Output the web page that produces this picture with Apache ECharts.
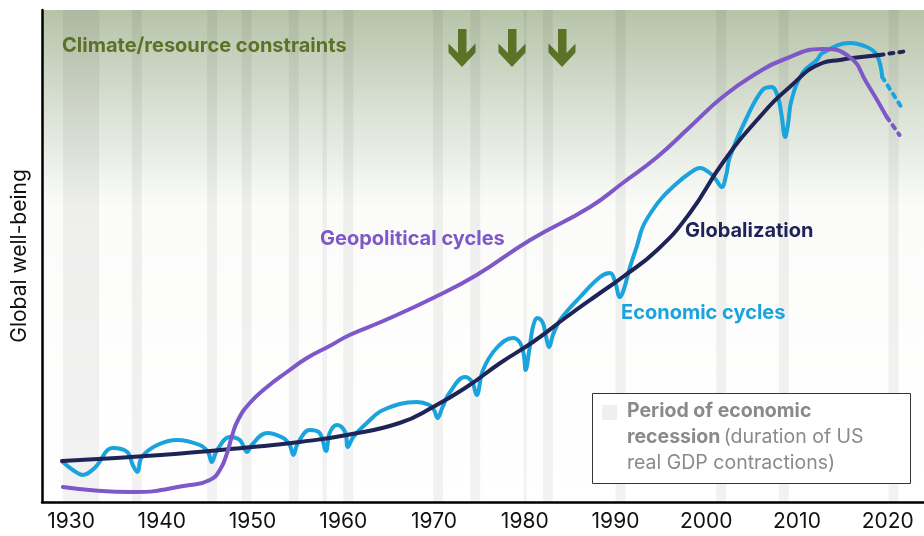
<!DOCTYPE html>
<html>
<head>
<meta charset="utf-8">
<script src="https://cdn.jsdelivr.net/npm/echarts@6/dist/echarts.min.js"></script>
<style>
  html, body { margin: 0; padding: 0; background: #fff; }
  #chart { width: 924px; height: 536px; }
</style>
</head>
<body>
<div id="chart"></div>
<script>
// x = year, y = relative well-being (arbitrary units, 0 at the x axis)
const yearTicks = [1930, 1940, 1950, 1960, 1970, 1980, 1990, 2000, 2010, 2020];

// periods of US real GDP contraction [start, end]
const recessions = [
  [1929.1, 1933.1], [1936.7, 1937.8], [1945.0, 1946.1], [1948.8, 1949.9],
  [1954.0, 1955.1], [1957.7, 1958.2], [1960.0, 1961.1], [1969.9, 1971.0],
  [1974.0, 1975.1], [1979.9, 1980.2], [1982.0, 1983.1], [1990.0, 1991.1],
  [2001.1, 2002.2], [2008.0, 2009.1], [2020.1, 2021.2]
];

const economicCycles = [
  [1929.1, 40], [1930.2, 32], [1931.3, 27], [1932.6, 34], [1934.6, 54], [1936.2, 50],
  [1936.8, 37], [1937.3, 30], [1937.8, 45], [1939.5, 57], [1941.7, 62], [1944.2, 57],
  [1945.1, 50], [1945.5, 40], [1946.1, 52], [1947.5, 65], [1948.6, 62], [1949.4, 50],
  [1949.9, 57], [1951.6, 69], [1953.4, 64], [1954.1, 57], [1954.5, 47], [1955.0, 59],
  [1956.3, 72], [1957.4, 69], [1958.1, 51], [1958.5, 69], [1959.3, 77], [1960.2, 70],
  [1960.5, 55], [1961.1, 65], [1962.6, 79], [1964.4, 92], [1968.1, 100], [1969.5, 97],
  [1970.0, 92], [1970.4, 84], [1970.9, 94], [1971.7, 109], [1973.4, 125], [1974.2, 120],
  [1974.7, 107], [1975.4, 132], [1976.9, 154], [1978.7, 164], [1979.5, 159], [1979.9, 147],
  [1980.1, 132], [1980.5, 152], [1980.9, 175], [1981.4, 184], [1982.0, 179], [1982.3, 167],
  [1982.7, 155], [1983.1, 167], [1983.9, 182], [1986.1, 205], [1988.3, 225], [1989.4, 229],
  [1989.9, 222], [1990.5, 205], [1990.9, 212], [1991.6, 235], [1992.4, 257], [1993.0, 275],
  [1994.1, 292], [1995.2, 305], [1996.8, 319], [1998.2, 329], [1999.3, 334], [2000.4, 329],
  [2001.1, 322], [2001.7, 315], [2002.2, 327], [2002.6, 345], [2004.5, 385], [2006.2, 412],
  [2007.2, 415], [2007.9, 405], [2008.3, 387], [2008.7, 365], [2009.0, 377], [2009.4, 402],
  [2010.6, 429], [2012.2, 442], [2012.8, 449], [2015.8, 459], [2017.7, 455], [2018.8, 447],
  [2019.4, 425]
];
const economicProjection = [[2019.4, 425], [2021.5, 395]];

const globalization = [
  [1929.0, 41], [1939.9, 47], [1950.0, 55], [1955.2, 60], [1960.4, 67], [1966.2, 79],
  [1969.9, 95], [1973.6, 115], [1977.3, 139], [1980.9, 160], [1984.6, 185], [1988.3, 209],
  [1990.8, 225], [1994.6, 252], [1998.2, 289], [2001.8, 339], [2005.6, 382], [2009.2, 415],
  [2012.8, 439], [2014.7, 442], [2016.1, 444], [2019.1, 447]
];
const globalizationProjection = [[2019.1, 447], [2022.2, 451]];

const geopolitical = [
  [1929.1, 15], [1936.8, 10], [1943.1, 17], [1945.3, 22], [1946.4, 32], [1947.2, 49],
  [1947.7, 65], [1948.4, 82], [1949.7, 99], [1951.6, 115], [1953.8, 130], [1956.0, 144],
  [1958.5, 156], [1960.7, 167], [1964.4, 181], [1969.9, 204], [1974.7, 227], [1980.6, 262],
  [1987.2, 295], [1990.8, 319], [1994.6, 345], [1998.2, 375], [2001.8, 405], [2005.6, 429],
  [2008.4, 442], [2012.8, 453], [2015.8, 445], [2017.7, 419], [2019.9, 385]
];
const geopoliticalProjection = [[2019.9, 385], [2021.3, 367]];

const BLUE = '#1aa3dc';
const NAVY = '#1f2457';
const PURPLE = '#7e57c8';
const GREEN = '#5a7326';
const FONT = 'Inter, Roboto, sans-serif';

const chart = echarts.init(document.getElementById('chart'), null, { renderer: 'canvas' });

function line(data, color, smooth, z) {
  return {
    type: 'line', data: data, smooth: smooth,
    showSymbol: false, silent: true, z: z,
    lineStyle: { color: color, width: 4, cap: 'round', join: 'round' }
  };
}
function dotted(data, color, z) {
  return {
    type: 'line', data: data, smooth: false, showSymbol: false, silent: true, z: z,
    lineStyle: { color: color, width: 4, type: [4, 6], cap: 'round' }
  };
}

// chevron arrow pointing down, left edge at x
function arrow(x) {
  return {
    type: 'polygon',
    shape: {
      points: [
        [x + 10, 29], [x + 18.5, 29], [x + 18.5, 53], [x + 27.5, 43.5], [x + 27.5, 52.5],
        [x + 14, 67], [x + 0.5, 52.5], [x + 0.5, 43.5], [x + 10, 53]
      ]
    },
    style: { fill: GREEN }
  };
}

const boldFont = 'bold 20px ' + FONT;

const option = {
  animation: false,
  grid: {
    left: 42, right: 0, top: 10, bottom: 34, show: true, borderWidth: 0,
    backgroundColor: {
      type: 'linear', x: 0, y: 0, x2: 0, y2: 1,
      colorStops: [
        { offset: 0, color: '#b6c3a8' },
        { offset: 0.18, color: '#d6ded0' },
        { offset: 0.4, color: '#fbfcfa' },
        { offset: 1, color: '#ffffff' }
      ]
    }
  },
  xAxis: {
    type: 'value', min: 1926.8, max: 2024.0,
    splitLine: { show: false },
    axisTick: { show: false },
    axisLine: { show: true, onZero: false, lineStyle: { color: '#000', width: 2.5 } },
    axisLabel: {
      customValues: yearTicks, color: '#111', fontSize: 21, margin: 9,
      fontFamily: FONT, formatter: v => String(v)
    }
  },
  yAxis: {
    type: 'value', min: 0, max: 492,
    splitLine: { show: false },
    axisTick: { show: false },
    axisLabel: { show: false },
    axisLine: { show: true, lineStyle: { color: '#000', width: 2.5 } },
    name: 'Global well-being', nameLocation: 'middle', nameGap: 12,
    nameTextStyle: { color: '#111', fontSize: 21, fontFamily: FONT }
  },
  series: [
    {
      type: 'line', data: [], silent: true, z: 1,
      markArea: {
        silent: true,
        itemStyle: { color: 'rgba(0,0,0,0.05)' },
        data: recessions.map(r => [{ xAxis: r[0] }, { xAxis: r[1] }])
      }
    },
    line(economicCycles, BLUE, 0.4, 3),
    dotted(economicProjection, BLUE, 3),
    line(globalization, NAVY, 0.5, 4),
    dotted(globalizationProjection, NAVY, 4),
    line(geopolitical, PURPLE, 0.5, 5),
    dotted(geopoliticalProjection, PURPLE, 5)
  ],
  graphic: [
    {
      type: 'text', left: 62, top: 36, z: 10,
      style: { text: 'Climate/resource constraints', fill: GREEN, font: boldFont }
    },
    arrow(448), arrow(498), arrow(548),
    {
      type: 'text', left: 320, top: 229, z: 10,
      style: { text: 'Geopolitical cycles', fill: PURPLE, font: boldFont }
    },
    {
      type: 'text', left: 685, top: 221, z: 10,
      style: { text: 'Globalization', fill: NAVY, font: boldFont }
    },
    {
      type: 'text', left: 621, top: 303, z: 10,
      style: { text: 'Economic cycles', fill: BLUE, font: boldFont }
    },
    {
      type: 'rect', left: 592, top: 393, z: 10,
      shape: { width: 318, height: 90 },
      style: { fill: '#ffffff', stroke: '#333', lineWidth: 1 }
    },
    {
      type: 'rect', left: 602, top: 405, z: 11,
      shape: { width: 15, height: 15 },
      style: { fill: '#efefef' }
    },
    {
      type: 'text', left: 627, top: 401, z: 11,
      style: {
        text: '{b|Period of economic}\n{b|recession} {n|(duration of US}\n{n|real GDP contractions)}',
        rich: {
          b: { fontSize: 19.5, fontWeight: 'bold', fill: '#8a8a8a', lineHeight: 26, fontFamily: FONT },
          n: { fontSize: 19.5, fill: '#8a8a8a', lineHeight: 26, fontFamily: FONT }
        }
      }
    }
  ]
};

chart.setOption(option);
</script>
</body>
</html>
